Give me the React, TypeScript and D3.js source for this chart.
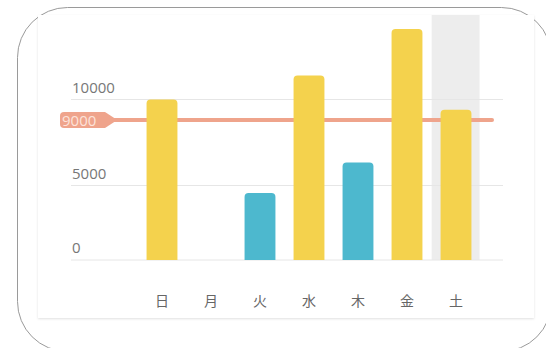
import React from "react";
import * as d3 from "d3";

const days = ["日", "月", "火", "水", "木", "金", "土"];
const values: (number | null)[] = [10000, null, 4500, 11400, 6400, 14100, 9500];
const yTicks = [0, 5000, 10000];
const avgValue = 9000;
const highlighted = "土";

const W = 546;
const H = 348;

export default function App() {
  const x = d3.scaleBand<string>().domain(days).range([137.5, 480.5]).paddingInner(0.37).paddingOuter(0.185);
  const xStep = d3.scaleBand<string>().domain(days).range([137.5, 480.5]).padding(0.02);
  const y = d3.scaleLinear().domain([0, 5000, 9000, 10000, 15000]).range([260, 185.5, 120, 99.5, 13.5]);
  const yellow = "#F4D24D";
  const blue = "#4DB8CE";
  const salmon = "#EFA48C";
  const r = 4;
  const barPath = (x0: number, w: number, top: number, bottom: number) => {
    const rr = Math.min(r, (bottom - top) / 2);
    const p = d3.path();
    p.moveTo(x0, bottom);
    p.lineTo(x0, top + rr);
    p.quadraticCurveTo(x0, top, x0 + rr, top);
    p.lineTo(x0 + w - rr, top);
    p.quadraticCurveTo(x0 + w, top, x0 + w, top + rr);
    p.lineTo(x0 + w, bottom);
    p.closePath();
    return p.toString();
  };
  const ay = y(avgValue);
  const badge = d3.path();
  const hh = 8;
  badge.moveTo(64, ay - hh);
  badge.lineTo(105, ay - hh);
  badge.lineTo(115, ay - 1.5);
  badge.lineTo(115, ay + 1.5);
  badge.lineTo(105, ay + hh);
  badge.lineTo(64, ay + hh);
  badge.quadraticCurveTo(60, ay + hh, 60, ay + hh - 4);
  badge.lineTo(60, ay - hh + 4);
  badge.quadraticCurveTo(60, ay - hh, 64, ay - hh);
  badge.closePath();

  return (
    <svg width={W} height={H} style={{ position: "absolute", left: 0, top: 0, display: "block", background: "#fff" }}
      fontFamily="'Open Sans', sans-serif">
      <defs>
        <filter id="sh" x="-5%" y="-5%" width="110%" height="115%">
          <feDropShadow dx="0" dy="1" stdDeviation="1.2" floodColor="#000" floodOpacity="0.12" />
        </filter>
      </defs>
      <rect x={17.5} y={7.5} width={534} height={344} rx={50} ry={50} fill="#fff" stroke="#9a9a9a" strokeWidth={1} />
      <rect x={38} y={15} width={496} height={303} fill="#fff" filter="url(#sh)" />
      {/* highlight shadow */}
      <rect x={xStep(highlighted)!} y={15} width={xStep.bandwidth()} height={y(0) - 15} fill="#ededed" />
      {/* grid */}
      {yTicks.map((t) => (
        <g key={t}>
          <line x1={71} x2={503} y1={y(t)} y2={y(t)} stroke="#e6e6e6" strokeWidth={1} />
          <text x={72} y={y(t) - 7} fontSize={15} fill="#777">{t}</text>
        </g>
      ))}
      {/* average line */}
      <line x1={110} x2={492} y1={ay} y2={ay} stroke={salmon} strokeWidth={4} strokeLinecap="round" />
      <path d={badge.toString()} fill={salmon} />
      <text x={62} y={ay + 5.5} fontSize={15} fill="#fde3da">{avgValue}</text>
      {/* bars */}
      {days.map((d, i) => {
        const v = values[i];
        if (v == null) return null;
        return (
          <path key={d} d={barPath(x(d)!, x.bandwidth(), y(v), y(0))} fill={v < avgValue ? blue : yellow} />
        );
      })}
      {/* x labels */}
      {days.map((d) => (
        <text key={d} x={x(d)! + x.bandwidth() / 2} y={306} fontSize={14} fill="#666" textAnchor="middle"
          fontFamily="'Noto Sans CJK JP', sans-serif">{d}</text>
      ))}
    </svg>
  );
}
